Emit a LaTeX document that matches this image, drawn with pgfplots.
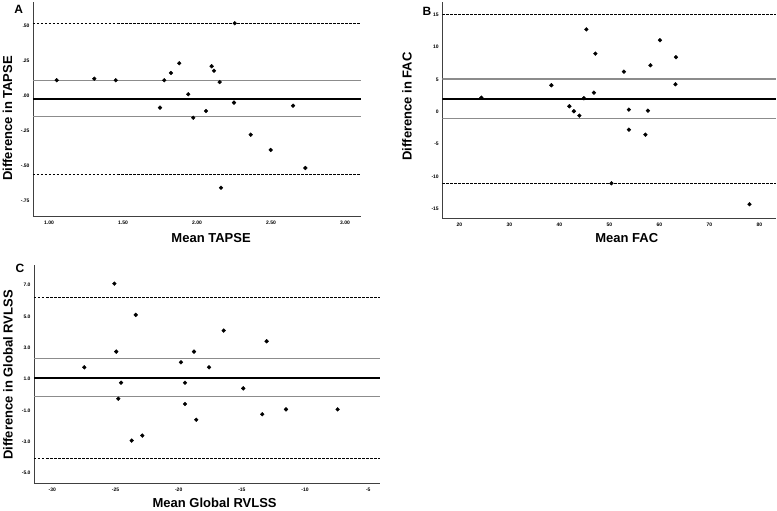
\documentclass[border=0pt]{standalone}
\usepackage{pgfplots}
\pgfplotsset{compat=1.18}
\usepackage{fontspec}
\setmainfont{Liberation Sans}

\newcommand{\lblfont}{\fontsize{13}{15}\selectfont\bfseries}
\pgfplotsset{
  baplot/.style={
    scale only axis,
    anchor=south west,
    axis x line*=bottom, axis y line*=left,
    axis line style={black!75, line width=0.7pt},
    major tick length=0pt,
    tick style={draw=none},
    /pgf/number format/assume math mode=true,
    ticklabel style={font=\fontsize{5}{6}\selectfont\bfseries},
    xticklabel style={yshift=-1.5pt},
  },
  loa/.style={black, line width=0.9pt, dash pattern=on 2.5pt off 1.5pt},
  ci/.style={black!45, line width=1.1pt},
  mn/.style={black, line width=2.2pt},
  pts/.style={only marks, mark=*, mark size=1.9pt, black},
}

\begin{document}
\begin{tikzpicture}
\useasboundingbox (0pt,0pt) rectangle (777pt,511pt);

% ---------- Panel A ----------
\begin{axis}[baplot,
  at={(33pt,295pt)}, width=328pt, height=214pt,
  xmin=0.892, xmax=3.108, ymin=-0.861, ymax=0.668,
  xtick={1,1.5,2,2.5,3}, xticklabels={1.00,1.50,2.00,2.50,3.00},
  ytick={-0.75,-0.5,-0.25,0,0.25,0.5}, yticklabels={-.75,-.50,-.25,.00,.25,.50},
  every axis y label/.style={at={(axis description cs:-0.078,0.456)}, rotate=90, anchor=center, font=\lblfont},
  every axis x label/.style={at={(axis description cs:0.543,-0.103)}, anchor=center, font=\lblfont},
  xlabel={Mean TAPSE}, ylabel={Difference in TAPSE},
]
\addplot[loa] coordinates {(0.892,0.516) (3.108,0.516)};
\addplot[loa] coordinates {(0.892,-0.563) (3.108,-0.563)};
\addplot[ci] coordinates {(0.892,0.106) (3.108,0.106)};
\addplot[ci] coordinates {(0.892,-0.151) (3.108,-0.151)};
\addplot[mn] coordinates {(0.892,-0.025) (3.108,-0.025)};
\addplot[pts] coordinates {
(1.052,0.109) (1.306,0.120) (1.451,0.109) (1.750,-0.087) (1.779,0.109)
(1.824,0.161) (1.880,0.230) (1.941,0.009) (1.975,-0.159) (2.061,-0.111)
(2.099,0.209) (2.115,0.177) (2.153,0.096) (2.250,-0.051) (2.255,0.516)
(2.649,-0.073) (2.363,-0.280) (2.498,-0.389) (2.732,-0.518) (2.162,-0.659)
};
\end{axis}

% ---------- Panel B ----------
\begin{axis}[baplot,
  at={(442.3pt,292.7pt)}, width=333.7pt, height=216.3pt,
  xmin=16.6, xmax=83.3, ymin=-16.44, ymax=17.0,
  xtick={20,30,40,50,60,70,80},
  ytick={-15,-10,-5,0,5,10,15},
  every axis y label/.style={at={(axis description cs:-0.106,0.517)}, rotate=90, anchor=center, font=\lblfont},
  every axis x label/.style={at={(axis description cs:0.553,-0.092)}, anchor=center, font=\lblfont},
  xlabel={Mean FAC}, ylabel={Difference in FAC},
]
\addplot[loa] coordinates {(16.6,15.05) (83.3,15.05)};
\addplot[loa] coordinates {(16.6,-11.0) (83.3,-11.0)};
\addplot[ci] coordinates {(16.6,5.1) (83.3,5.1)};
\addplot[ci] coordinates {(16.6,-1.08) (83.3,-1.08)};
\addplot[mn] coordinates {(16.6,2.0) (83.3,2.0)};
\addplot[pts] coordinates {
(24.4,2.21) (38.4,4.13) (42.0,0.88) (42.9,0.11) (44.0,-0.57)
(44.9,2.12) (45.4,12.76) (47.2,9.02) (46.9,2.98) (52.9,6.23)
(53.9,0.36) (53.9,-2.74) (58.2,7.22) (57.7,0.20) (60.1,11.09)
(63.3,8.46) (63.2,4.28) (57.2,-3.51) (50.4,-11.03) (78.0,-14.27)
};
\end{axis}

% ---------- Panel C ----------
\begin{axis}[baplot,
  at={(34pt,27.7pt)}, width=346pt, height=218.3pt,
  xmin=-31.45, xmax=-4.07, ymin=-5.64, ymax=8.27,
  xtick={-30,-25,-20,-15,-10,-5},
  ytick={-5,-3,-1,1,3,5,7}, yticklabels={-5.0,-3.0,-1.0,1.0,3.0,5.0,7.0},
  every axis y label/.style={at={(axis description cs:-0.075,0.496)}, rotate=90, anchor=center, font=\lblfont},
  every axis x label/.style={at={(axis description cs:0.522,-0.089)}, anchor=center, font=\lblfont},
  xlabel={Mean Global RVLSS}, ylabel={Difference in Global RVLSS},
]
\addplot[loa] coordinates {(-31.45,6.19) (-4.07,6.19)};
\addplot[loa] coordinates {(-31.45,-4.05) (-4.07,-4.05)};
\addplot[ci] coordinates {(-31.45,2.30) (-4.07,2.30)};
\addplot[ci] coordinates {(-31.45,-0.12) (-4.07,-0.12)};
\addplot[mn] coordinates {(-31.45,1.07) (-4.07,1.07)};
\addplot[pts] coordinates {
(-27.47,1.75) (-25.09,7.08) (-24.94,2.75) (-23.40,5.09) (-24.56,0.77)
(-19.82,2.07) (-18.79,2.75) (-19.50,0.77) (-17.60,1.75) (-16.44,4.09)
(-13.04,3.41) (-24.78,-0.25) (-23.72,-2.92) (-22.88,-2.60) (-19.50,-0.59)
(-18.61,-1.59) (-14.89,0.41) (-13.39,-1.24) (-11.51,-0.93) (-7.42,-0.93)
};
\end{axis}

% panel letters
\node[font=\fontsize{12}{14}\selectfont\bfseries] at (18.7pt,501.5pt) {A};
\node[font=\fontsize{12}{14}\selectfont\bfseries] at (427pt,499.5pt) {B};
\node[font=\fontsize{12}{14}\selectfont\bfseries] at (20pt,242.5pt) {C};
\end{tikzpicture}
\end{document}
